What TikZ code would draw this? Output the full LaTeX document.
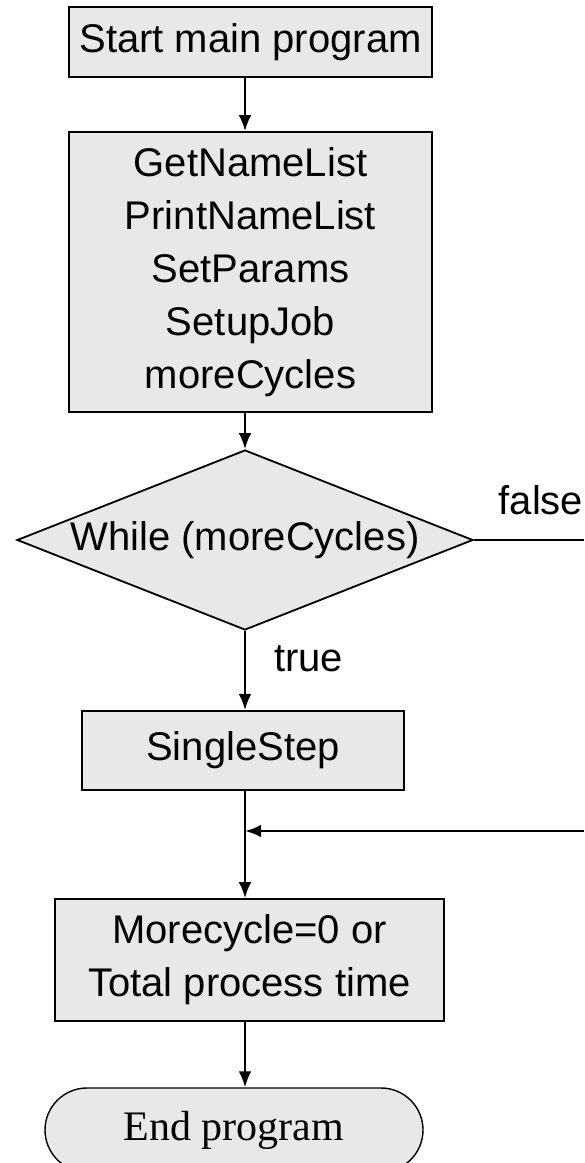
\documentclass[tikz,border=0pt]{standalone}
\usepackage{xcolor}
\usepackage{fontspec}
\setmainfont{Liberation Sans}
\newfontfamily\endfont{Liberation Serif}
\usetikzlibrary{shapes.geometric,arrows.meta}
\definecolor{boxfill}{RGB}{232,232,232}
\tikzstyle{block}=[draw, line width=1.3pt, fill=boxfill, inner sep=0pt, align=center, font=\fontsize{28.45}{37.7}\selectfont]
\tikzstyle{decision}=[block, diamond, aspect=2.53]
\tikzstyle{terminal}=[draw, line width=1pt, fill=boxfill, rounded corners=1.05cm, inner sep=0pt, font=\endfont\fontsize{29.9}{36}\selectfont]
\tikzstyle{branch}=[inner sep=0pt, anchor=west, font=\fontsize{28.45}{34}\selectfont]
\tikzstyle{flow}=[-{Latex[length=0.4cm,width=0.32cm]}, line width=1.5pt]

\begin{document}
\begin{tikzpicture}
  \useasboundingbox (0,0) rectangle (14.6,-29.075);
  \draw (6.2625,-1.05) node[block,minimum width=9.075cm,minimum height=1.75cm] (start) {Start main program};
  \draw (6.2625,-6.8) node[block,minimum width=9.075cm,minimum height=7cm] (setup) {GetNameList\\PrintNameList\\SetParams\\SetupJob\\moreCycles};
  \draw (6.125,-13.5) node[decision,minimum width=11.4cm,minimum height=4.5cm] (while) {While (moreCycles)};
  \draw (6.075,-18.76) node[block,minimum width=8.05cm,minimum height=1.975cm] (single) {SingleStep};
  \draw (6.2375,-24.0) node[block,minimum width=9.725cm,minimum height=3.05cm] (check) {Morecycle=0 or\\Total process time};
  \draw (5.85,-28.25) node[terminal,minimum width=9.45cm,minimum height=2.1cm] (end) {End program};

  \draw (6.85,-16.475) node[branch] (truelab) {true};
  \draw (12.46,-12.5) node[branch] (falselab) {false};

  \coordinate (falseout) at (14.6,-13.5);
  \coordinate (backin) at (14.6,-20.775);
  \coordinate (backjoin) at (6.125,-20.775);

  \draw[flow] (start.south -| while.north) -- (setup.north -| while.north);
  \draw[flow] (setup.south -| while.north) -- (while.north);
  \draw[flow] (while.south) -- (single.north -| while.south);
  \draw[flow] (single.south -| while.south) -- (check.north -| while.south);
  \draw[flow] (check.south -| while.south) -- (end.north -| while.south);

  %% loop back
  \draw[line width=1pt] (while.east) -- (falseout);
  \draw[flow,line width=2pt] (backin) -- (backjoin);
\end{tikzpicture}
\end{document}
